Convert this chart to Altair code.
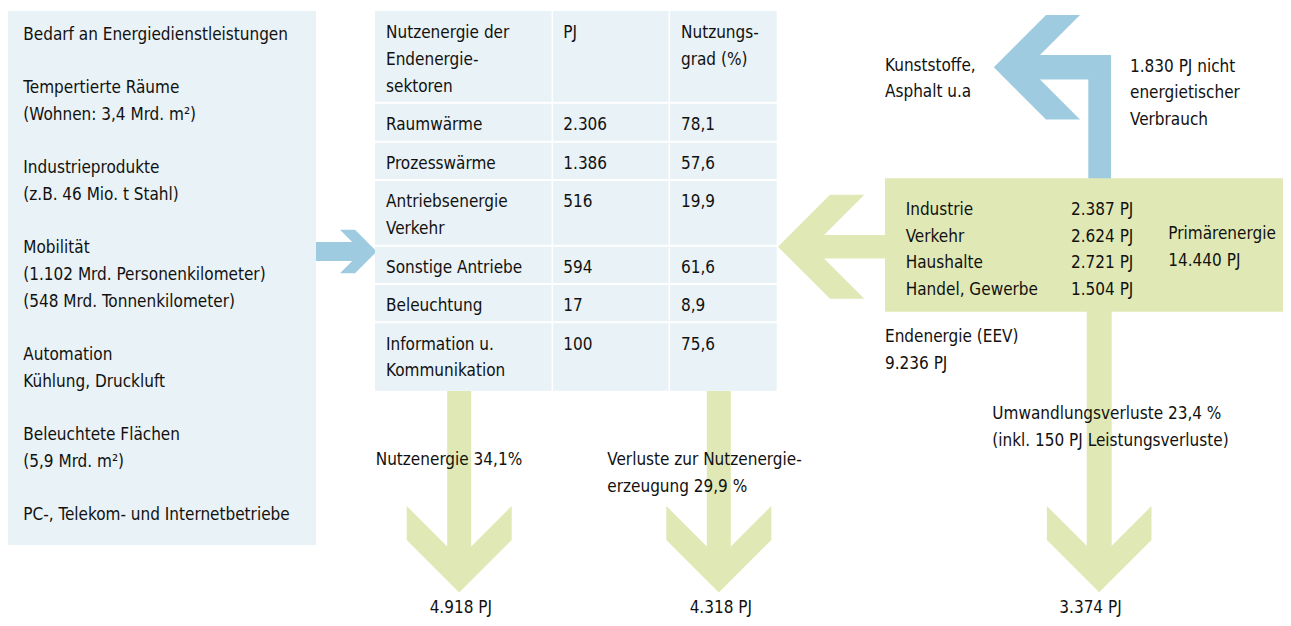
import altair as alt
import pandas as pd

# ---------------- data ----------------
demand_lines = [
    "Bedarf an Energiedienstleistungen", "",
    "Tempertierte Räume", "(Wohnen: 3,4 Mrd. m²)", "",
    "Industrieprodukte", "(z.B. 46 Mio. t Stahl)", "",
    "Mobilität", "(1.102 Mrd. Personenkilometer)", "(548 Mrd. Tonnenkilometer)", "",
    "Automation", "Kühlung, Druckluft", "",
    "Beleuchtete Flächen", "(5,9 Mrd. m²)", "",
    "PC-, Telekom- und Internetbetriebe",
]

table_head = [["Nutzenergie der", "Endenergie-", "sektoren"], ["PJ"], ["Nutzungs-", "grad (%)"]]
use_sectors = [["Raumwärme"], ["Prozesswärme"], ["Antriebsenergie", "Verkehr"],
               ["Sonstige Antriebe"], ["Beleuchtung"], ["Information u.", "Kommunikation"]]
use_pj = [2306, 1386, 516, 594, 17, 100]
use_eff = [78.1, 57.6, 19.9, 61.6, 8.9, 75.6]

eev_sectors = ["Industrie", "Verkehr", "Haushalte", "Handel, Gewerbe"]
eev_pj = [2387, 2624, 2721, 1504]
eev_total_pj = 9236
primary_pj = 14440
non_energy_pj = 1830
non_energy_use = ["Kunststoffe,", "Asphalt u.a"]

outflow_pj = [4918, 4318, 3374]
outflow_share = [34.1, 29.9, 23.4]


def de_int(v):
    return f"{v:,}".replace(",", ".")


def de_dec(v):
    return f"{v:.1f}".replace(".", ",")


outflow_labels = [
    [f"Nutzenergie {de_dec(outflow_share[0])}%"],
    ["Verluste zur Nutzenergie-", f"erzeugung {de_dec(outflow_share[1])} %"],
    [f"Umwandlungsverluste {de_dec(outflow_share[2])} %", "(inkl. 150 PJ Leistungsverluste)"],
]

# ---------------- layout / style ----------------
W, H = 1275, 610
LINE = 26.67
FONT = "'DejaVu Sans Condensed', 'DejaVu Sans', sans-serif"
FSIZE = 17
DY = -0.8
LIGHT = "#e9f2f6"
BLUE = "#9fcbe0"
GREEN = "#e0e9b5"
INK = "#111110"

left_box = (7, 11, 316, 545)
green_box = (885, 178.3, 1291, 311.7)
tab_cols = [375, 552.3, 669.3, 776.7]
tab_rows = [11, 102.7, 141.7, 180, 245.7, 284, 322.3, 390.7]


def rect(x0, y0, x1, y1):
    return [(x0, y0), (x1, y0), (x1, y1), (x0, y1), (x0, y0)]


def chevron(orient, c, start, s, d, w, h):
    sg = -1 if orient in ("left", "up") else 1
    pts = [(start, -w), (s + sg * (h - w), -w), (s, -h), (s + sg * d, -h),
           (s + sg * (d + h), 0), (s + sg * d, h), (s, h), (s + sg * (h - w), w), (start, w)]
    if orient in ("down", "up"):
        ring = [(c + b, a) for a, b in pts]
    else:
        ring = [(a, c + b) for a, b in pts]
    return ring + [ring[0]]


shapes = []


def add(ring, fill):
    shapes.append({"type": "Feature", "properties": {"fill": fill},
                   "geometry": {"type": "Polygon", "coordinates": [[list(p) for p in ring]]}})


add(rect(*left_box), LIGHT)
add(chevron("right", 251.5, 316, 340, 15, 9.5, 21.7), BLUE)
for i in range(3):
    for j in range(len(tab_rows) - 1):
        x0 = tab_cols[i] + (0.8 if i > 0 else 0)
        x1 = tab_cols[i + 1] - (0.8 if i < 2 else 0)
        y0 = tab_rows[j] + (1 if j > 0 else 0)
        y1 = tab_rows[j + 1] - (1 if j < len(tab_rows) - 2 else 0)
        add(rect(x0, y0, x1, y1), LIGHT)
add(chevron("down", 459.2, 391, 506, 34, 12, 52.5), GREEN)
add(chevron("down", 718.8, 391, 506, 34, 12, 52.5), GREEN)
add(chevron("down", 1099.2, 305, 506, 34, 12.5, 52.3), GREEN)
add(rect(1088.3, 55, 1111, 179), BLUE)
add(chevron("left", 67.2, 1111, 1080, 34, 12.2, 52.2), BLUE)
add(chevron("left", 246.8, 890, 864.3, 34.3, 11.7, 52), GREEN)
add(rect(*green_box), GREEN)

# ---------------- texts ----------------
left_rows = []
center_rows = []
for i, line in enumerate(demand_lines):
    if line:
        left_rows.append({"x": 23.3, "y": 40.7 + i * LINE, "t": line})

col_x = [386, 563.3, 681]
for ci, cell in enumerate(table_head):
    for k, line in enumerate(cell):
        left_rows.append({"x": col_x[ci], "y": tab_rows[0] + 28 + k * LINE, "t": line})
for r, name in enumerate(use_sectors):
    base = tab_rows[r + 1] + 28
    for k, line in enumerate(name):
        left_rows.append({"x": col_x[0], "y": base + k * LINE, "t": line})
    left_rows.append({"x": col_x[1], "y": base, "t": de_int(use_pj[r])})
    left_rows.append({"x": col_x[2], "y": base, "t": de_dec(use_eff[r])})

for k, line in enumerate(non_energy_use):
    left_rows.append({"x": 885, "y": 71.3 + k * LINE, "t": line})
for k, line in enumerate([f"{de_int(non_energy_pj)} PJ nicht", "energietischer", "Verbrauch"]):
    left_rows.append({"x": 1130, "y": 72.3 + k * LINE, "t": line})
for k, (name, v) in enumerate(zip(eev_sectors, eev_pj)):
    left_rows.append({"x": 905.7, "y": 215.7 + k * LINE, "t": name})
    left_rows.append({"x": 1071, "y": 215.7 + k * LINE, "t": f"{de_int(v)} PJ"})
for k, line in enumerate(["Primärenergie", f"{de_int(primary_pj)} PJ"]):
    left_rows.append({"x": 1168.3, "y": 239.7 + k * LINE, "t": line})
for k, line in enumerate(["Endenergie (EEV)", f"{de_int(eev_total_pj)} PJ"]):
    left_rows.append({"x": 885, "y": 343 + k * LINE, "t": line})

label_pos = [(375.7, 465.7), (607.3, 465.7), (992.3, 420)]
for (lx, ly), lines in zip(label_pos, outflow_labels):
    for k, line in enumerate(lines):
        left_rows.append({"x": lx, "y": ly + k * LINE, "t": line})
value_x = [460.8, 720.8, 1090.5]
for vx, v in zip(value_x, outflow_pj):
    center_rows.append({"x": vx, "y": 613.5, "t": f"{de_int(v)} PJ"})

for r in left_rows + center_rows:
    r["y"] += DY

XS = alt.Scale(domain=[8, 8 + W], range=[0, W], nice=False, zero=False)
YS = alt.Scale(domain=[8, 8 + H], range=[0, H], nice=False, zero=False)

shape_layer = alt.Chart(alt.Data(values=shapes)).mark_geoshape(strokeWidth=0).encode(
    fill=alt.Fill("properties.fill:N", scale=None)
).project(type="identity", scale=1, translate=[-8, -8])


def text_layer(rows, align):
    return alt.Chart(pd.DataFrame(rows)).mark_text(
        align=align, baseline="alphabetic", font=FONT, fontSize=FSIZE, color=INK
    ).encode(
        x=alt.X("x:Q", scale=XS, axis=None),
        y=alt.Y("y:Q", scale=YS, axis=None),
        text="t:N",
    )


chart = alt.layer(
    shape_layer, text_layer(left_rows, "left"), text_layer(center_rows, "center")
).properties(
    width=W, height=H, padding=0, autosize=alt.AutoSizeParams(type="none")
).configure_view(strokeWidth=0)

chart.save("out.html", embed_options={"renderer": "svg", "actions": False})
